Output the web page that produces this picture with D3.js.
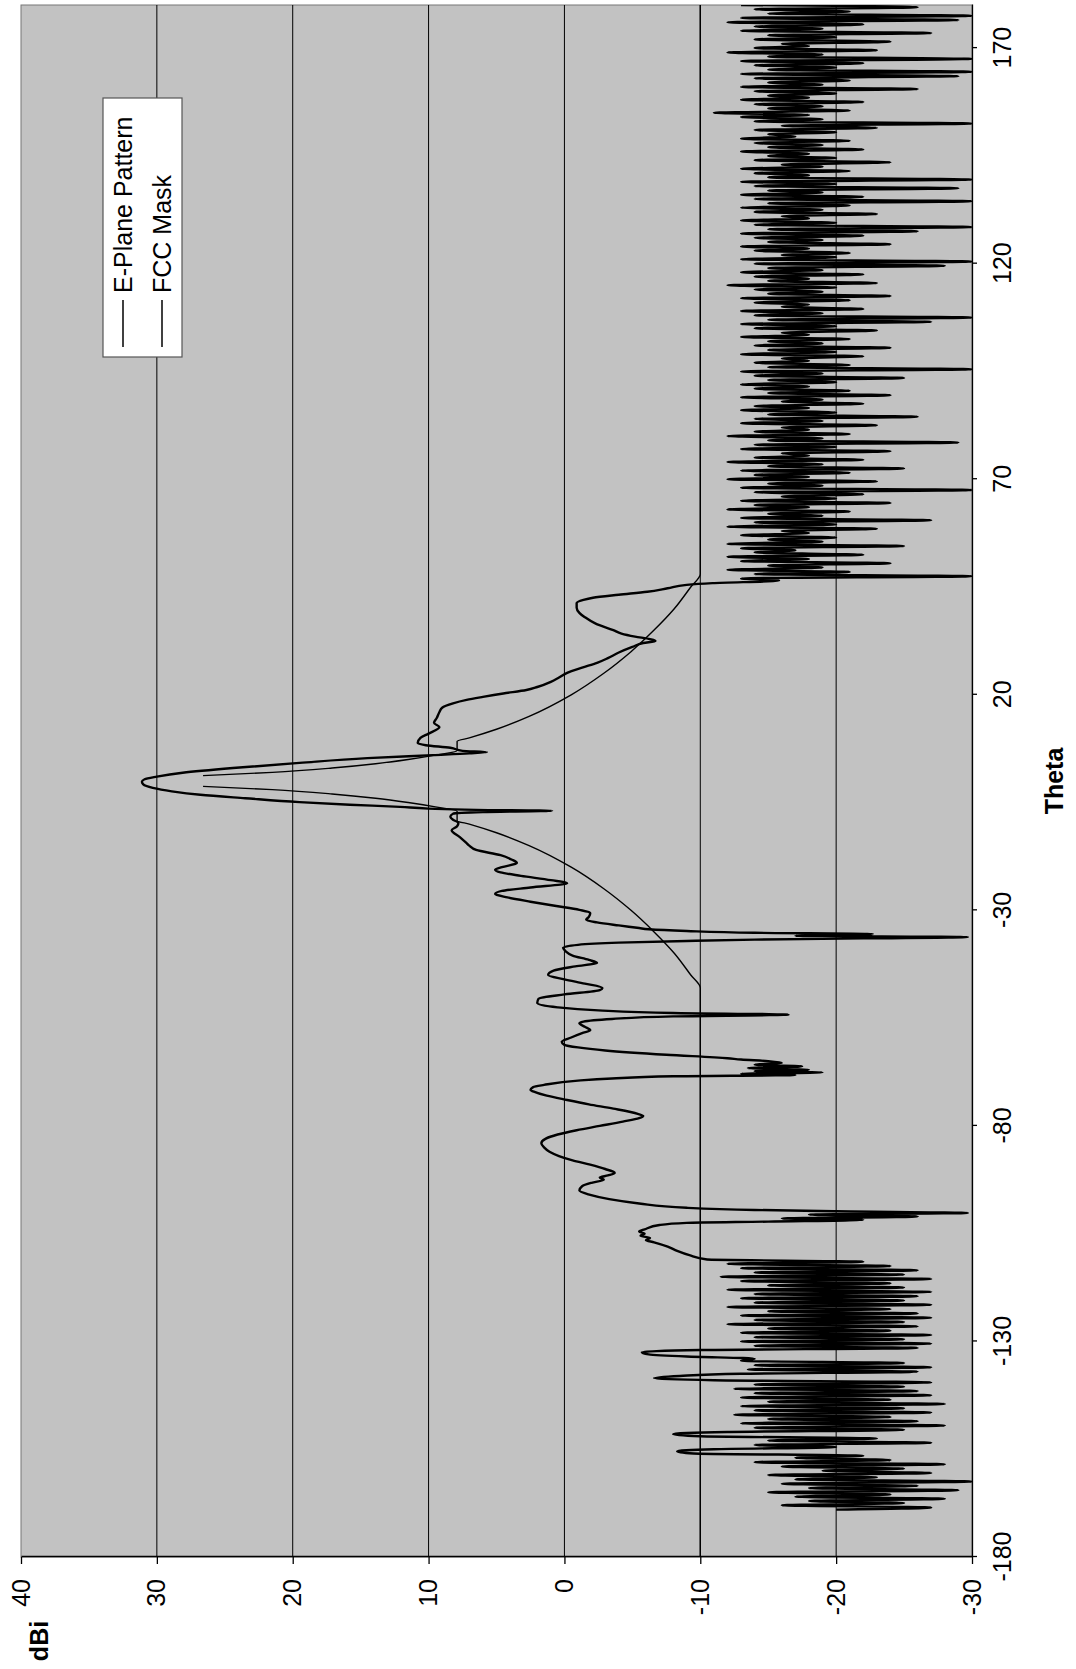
<!DOCTYPE html>
<html>
<head>
<meta charset="utf-8" />
<title>E-Plane Pattern vs FCC Mask</title>
<style>
body { margin: 0; background: #fff; }
#graph { width: 1076px; height: 1669px; }
text { font-family: Arial, "Liberation Sans", sans-serif; fill: #000; }
.axis text { font-size: 25px; }
.axis path, .axis line { stroke: #000; stroke-width: 1.3; }
.grid line { stroke: #000; stroke-width: 1; }
</style>
</head>
<body>
<div id="graph"></div>

<script src="https://cdnjs.cloudflare.com/ajax/libs/d3/7.8.5/d3.min.js"></script>
<script>
!(function(){
    "use strict"

    // tick labels
    var thetaTicks = [-180, -130, -80, -30, 20, 70, 120, 170]
    var gainTicks = [40, 30, 20, 10, 0, -10, -20, -30]
    var seriesNames = ["E-Plane Pattern", "FCC Mask"]

    // E-plane, noisy back region (theta -169 .. -111.5, every 0.5 deg)
    var backNoiseStart = -169, noiseStep = 0.5
    var backNoise = [
        -20, -27, -16, -25, -18, -28, -17, -24, -15, -29,
        -18, -26, -16, -30, -17, -23, -15, -27, -19, -25,
        -16, -28, -14, -24, -17, -22, -9.5, -8.3, -11, -20,
        -14, -27, -15, -23, -10, -8.0, -12, -25, -14, -28,
        -13, -26, -15, -24, -12.5, -27, -14, -25, -13, -28,
        -15, -24, -13, -27, -14, -26, -12.5, -25, -14, -27,
        -11, -6.6, -8.5, -13, -26, -13.5, -27, -14, -25, -13,
        -14, -9, -6.2, -5.7, -10, -26, -14, -27, -13, -25,
        -14, -27, -13, -24, -15, -26, -12, -25, -14, -27,
        -13, -26, -15, -24, -12, -27, -14, -25, -13, -26,
        -14, -27, -12, -25, -15, -24, -13, -27, -11.5, -25,
        -14, -26, -13, -24, -12, -22
    ]

    // E-plane, lobes and main beam [theta, dBi]
    var mainLobe = [
        [-111.0,-10.5],[-110.0,-9.2],[-109.0,-8.3],[-108.0,-7.6],[-107.0,-6.6],[-106.5,-6.0],[-106.0,-6.3],
        [-105.5,-5.6],[-105.0,-5.9],[-104.5,-5.5],[-104.0,-5.9],[-103.0,-7.0],[-102.5,-9.0],
        [-102.2,-15.0],[-101.8,-22.0],[-101.5,-16.0],[-101.0,-26.0],[-100.6,-18.0],[-100.2,-29.7],
        [-99.8,-20.0],[-99.5,-14.0],[-99.0,-9.0],[-98.0,-5.5],[-97.0,-3.3],[-96.0,-1.9],[-95.0,-1.1],
        [-94.0,-1.3],[-93.2,-2.0],[-92.5,-2.9],[-92.0,-2.6],[-91.5,-3.2],[-90.9,-3.7],[-90.0,-3.0],
        [-89.0,-1.9],[-88.0,-0.6],[-87.0,0.4],[-86.0,1.1],[-85.0,1.5],[-84.0,1.7],[-83.0,1.4],[-82.0,0.5],
        [-81.0,-0.9],[-80.0,-2.6],[-79.0,-4.3],[-78.2,-5.5],[-77.7,-5.8],[-77.2,-5.4],[-76.0,-3.6],
        [-75.0,-1.8],[-74.0,-0.2],[-73.0,1.3],[-72.0,2.3],[-71.7,2.5],[-71.0,2.3],[-70.5,1.5],[-69.5,-1.0],
        [-69.0,-3.5],[-68.5,-8.0],[-68.2,-17.0],[-67.9,-13.0],[-67.6,-19.0],[-67.3,-14.0],[-67.0,-18.0],
        [-66.6,-13.5],[-66.2,-17.5],[-65.8,-14.0],[-65.4,-16.0],[-65.0,-15.0],[-64.6,-13.0],[-64.3,-12.0],
        [-63.5,-7.5],[-62.5,-3.0],[-61.8,-1.0],[-61.2,0.0],[-60.5,0.2],[-59.5,-0.5],[-58.5,-1.3],
        [-57.8,-1.9],[-57.0,-1.5],[-56.2,-1.1],[-55.8,-1.4],[-55.2,-3.5],[-54.6,-8.0],[-54.2,-16.5],
        [-53.8,-8.0],[-53.2,-2.5],[-52.5,0.5],[-51.5,2.0],[-50.5,1.9],[-49.5,0.0],[-48.5,-2.6],[-48.0,-2.8],
        [-47.0,-1.5],[-46.0,0.0],[-45.0,1.2],[-44.0,0.8],[-43.0,-0.8],[-42.2,-2.4],[-41.5,-1.8],[-40.5,-0.6],
        [-39.5,-0.1],[-38.7,0.1],[-38.0,-1.0],[-37.5,-4.0],[-37.1,-9.0],[-36.8,-14.0],[-36.5,-22.0],
        [-36.2,-29.7],[-35.9,-17.0],[-35.5,-22.7],[-35.2,-14.0],[-34.8,-9.0],[-34.4,-6.2],[-34.1,-5.5],
        [-33.5,-4.0],[-32.8,-2.4],[-32.2,-1.6],[-31.5,-1.8],[-30.6,-1.9],[-29.9,-1.1],[-29.0,0.6],
        [-28.0,2.5],[-27.0,4.2],[-26.2,5.1],[-25.5,4.6],[-24.7,2.5],[-23.7,-0.2],[-23.0,1.0],[-22.0,3.2],
        [-21.2,4.7],[-20.6,5.1],[-20.0,4.6],[-19.0,3.5],[-18.2,3.9],[-17.2,4.7],[-16.0,6.5],[-15.0,7.0],
        [-14.4,7.2],[-13.0,7.7],[-11.4,8.3],[-10.5,7.9],[-9.7,7.8],[-9.0,8.2],[-8.3,8.4],[-7.6,8.2],
        [-7.2,6.0],[-6.9,0.9],[-6.7,6.5],[-6.4,10.0],[-6.0,12.1],[-5.5,15.8],[-4.9,19.5],[-4.0,23.5],
        [-3.2,26.8],[-2.4,28.9],[-1.6,30.3],[-0.8,31.0],[-0.2,31.1],[0.4,30.9],[1.0,30.0],[1.9,28.1],
        [3.0,24.4],[4.2,19.5],[5.3,14.5],[6.0,9.7],[6.4,7.0],[6.7,5.7],[7.0,7.5],[7.7,8.4],[8.3,10.2],
        [8.8,10.8],[10.0,10.6],[11.0,10.0],[12.5,9.2],[13.5,9.6],[14.6,9.4],[16.0,9.2],[17.0,9.0],
        [18.0,8.2],[18.8,7.2],[19.5,6.0],[20.3,4.5],[21.1,2.8],[21.8,2.0],[23.0,1.0],[24.0,0.4],
        [25.1,-0.2],[26.3,-1.3],[27.4,-2.4],[28.5,-3.2],[29.8,-4.0],[31.1,-5.0],[32.0,-5.8],[32.5,-6.7],
        [32.9,-6.3],[33.5,-5.2],[34.2,-4.2],[35.0,-3.6],[36.5,-2.3],[38.0,-1.5],[39.0,-1.1],[40.2,-0.9],
        [41.3,-0.9],[42.0,-1.4],[42.5,-2.1],[43.2,-4.0],[43.9,-6.1],[44.7,-7.6],[45.5,-9.0],[45.9,-10.9],
        [46.5,-15.8]
    ]

    // E-plane, noisy front region (theta 47 .. 180, every 0.5 deg)
    var frontNoiseStart = 47
    var frontNoise = [
        -13, -30, -14, -21, -12, -19, -15, -24, -13, -18,
        -12, -22, -14, -17, -13, -25, -12, -19, -15, -20,
        -13, -18, -16, -23, -12, -20, -14, -27, -13, -19,
        -15, -21, -12, -18, -14, -24, -13, -20, -16, -22,
        -14, -30, -13, -19, -15, -23, -12, -18, -14, -21,
        -13, -25, -15, -19, -12, -22, -14, -18, -16, -24,
        -13, -20, -14, -29, -15, -19, -12, -21, -14, -18,
        -16, -23, -13, -19, -14, -26, -15, -20, -13, -18,
        -14, -22, -16, -19, -13, -24, -15, -21, -14, -18,
        -13, -20, -15, -25, -14, -19, -13, -30, -15, -21,
        -14, -18, -16, -22, -13, -20, -15, -24, -14, -19,
        -15, -21, -13, -18, -16, -23, -14, -20, -13, -27,
        -15, -30, -14, -19, -13, -22, -16, -18, -14, -21,
        -13, -24, -15, -19, -14, -20, -12, -23, -15, -18,
        -14, -22, -13, -19, -15, -28, -14, -30, -13, -20,
        -16, -21, -14, -18, -13, -24, -15, -19, -14, -22,
        -13, -26, -15, -30, -14, -20, -13, -18, -16, -23,
        -14, -19, -13, -21, -15, -30, -14, -22, -13, -19,
        -15, -29, -14, -20, -13, -30, -15, -18, -14, -21,
        -13, -19, -16, -24, -14, -20, -15, -18, -13, -22,
        -15, -19, -14, -21, -13, -17, -15, -20, -14, -23,
        -16, -30, -14, -19, -13, -18, -11, -21, -15, -19,
        -14, -22, -13, -18, -15, -20, -14, -26, -13, -19,
        -15, -21, -14, -29, -13, -30, -15, -20, -14, -22,
        -13, -30, -15, -19, -12, -23, -14, -18, -16, -24,
        -14, -20, -15, -27, -13, -19, -14, -22, -12, -29,
        -13, -30, -15, -21, -14, -26, -13
    ]

    // FCC mask [theta, dBi], two branches either side of boresight
    var maskLeft = [
        [-180,-10],[-48,-10],[-45,-9.3],[-40,-8.1],[-35,-6.6],[-30,-4.9],[-25,-2.9],[-20,-0.5],
        [-15,2.6],[-12,5.0],[-10,7.0],[-9.2,7.9],[-7,7.9],[-6,9.5],[-5,11.5],[-4,13.9],[-3,17.1],
        [-2,21.5],[-1.25,26.6]
    ]
    var maskRight = [
        [1.25,26.6],[2,21.5],[3,17.1],[4,13.9],[5,11.5],[6,9.5],[7,7.9],[9.2,7.9],[10,7.0],[12,5.0],
        [15,2.6],[20,-0.5],[25,-2.9],[30,-4.9],[35,-6.6],[40,-8.1],[45,-9.3],[48,-10],[180,-10]
    ]

    var pattern = backNoise.map(function(v, i){ return [backNoiseStart + i*noiseStep, v] })
        .concat(mainLobe)
        .concat(frontNoise.map(function(v, i){ return [frontNoiseStart + i*noiseStep, v] }))

    var width = 1076, height = 1669
    // the chart sits on its side: theta runs bottom->top, dBi left->right
    var chartWidth = 1552, chartHeight = 951
    var origin = [21, 1557]

    var svg = d3.select("#graph").append("svg").attr("width", width).attr("height", height)
    var chartLayer = svg.append("g")
        .attr("transform", "translate(" + origin + ") rotate(-90)")

    var xScale = d3.scaleLinear().domain([-180, 180]).range([0, chartWidth])
    var yScale = d3.scaleLinear().domain([-30, 40]).range([chartHeight, 0])

    chartLayer.append("rect")
        .attr("width", chartWidth).attr("height", chartHeight)
        .attr("fill", "#c2c2c2").attr("stroke", "#777").attr("stroke-width", 1)

    chartLayer.append("clipPath").attr("id", "plotClip")
        .append("rect").attr("width", chartWidth).attr("height", chartHeight)

    chartLayer.append("g").attr("class", "grid")
        .selectAll("line").data(gainTicks.filter(function(d){ return d < 40 && d > -30 }))
        .enter().append("line")
        .attr("x1", 0).attr("x2", chartWidth)
        .attr("y1", function(d){ return yScale(d) }).attr("y2", function(d){ return yScale(d) })

    var line = d3.line()
        .x(function(d){ return xScale(d[0]) })
        .y(function(d){ return yScale(d[1]) })
        .curve(d3.curveMonotoneX)

    var plot = chartLayer.append("g").attr("clip-path", "url(#plotClip)")

    plot.selectAll(".mask").data([maskLeft, maskRight]).enter().append("path")
        .attr("class", "mask")
        .attr("d", line)
        .attr("fill", "none").attr("stroke", "#000").attr("stroke-width", 1.4)

    plot.append("path").datum(pattern)
        .attr("d", line)
        .attr("fill", "none").attr("stroke", "#000").attr("stroke-width", 2.4)
        .attr("stroke-linejoin", "round")

    // plain hyphen for negatives, as in the original
    var plain = function(d){ return String(d) }

    var xAxis = d3.axisBottom(xScale).tickValues(thetaTicks).tickFormat(plain)
        .tickSize(5).tickSizeOuter(0).tickPadding(16)
    chartLayer.append("g").attr("class", "axis x")
        .attr("transform", "translate(0," + chartHeight + ")")
        .call(xAxis)

    var yAxis = d3.axisLeft(yScale).tickValues(gainTicks).tickFormat(plain)
        .tickSize(7).tickSizeOuter(0).tickPadding(15)
    chartLayer.append("g").attr("class", "axis y")
        .call(yAxis)

    chartLayer.selectAll(".axis text").attr("font-family", "Arial, 'Liberation Sans', sans-serif")

    chartLayer.append("text")
        .attr("x", chartWidth / 2).attr("y", 1042)
        .attr("text-anchor", "middle")
        .style("font-size", "25px").style("font-weight", "bold")
        .text("Theta")

    chartLayer.append("text")
        .attr("x", -84).attr("y", 27)
        .attr("text-anchor", "middle")
        .style("font-size", "25px").style("font-weight", "bold")
        .text("dBi")

    // legend
    var legend = chartLayer.append("g").attr("transform", "translate(1200,82)")
    legend.append("rect")
        .attr("width", 259).attr("height", 79)
        .attr("fill", "#fff").attr("stroke", "#555").attr("stroke-width", 1.2)

    var item = legend.selectAll(".item").data(seriesNames).enter().append("g")
        .attr("class", "item")
        .attr("transform", function(d, i){ return "translate(0," + (20 + i*39) + ")" })
    item.append("line")
        .attr("x1", 10).attr("x2", 57)
        .attr("stroke", "#000").attr("stroke-width", 1.5)
    item.append("text")
        .attr("x", 64).attr("dy", "0.35em")
        .style("font-size", "25px")
        .text(function(d){ return d })

}());
</script>
</body>
</html>
